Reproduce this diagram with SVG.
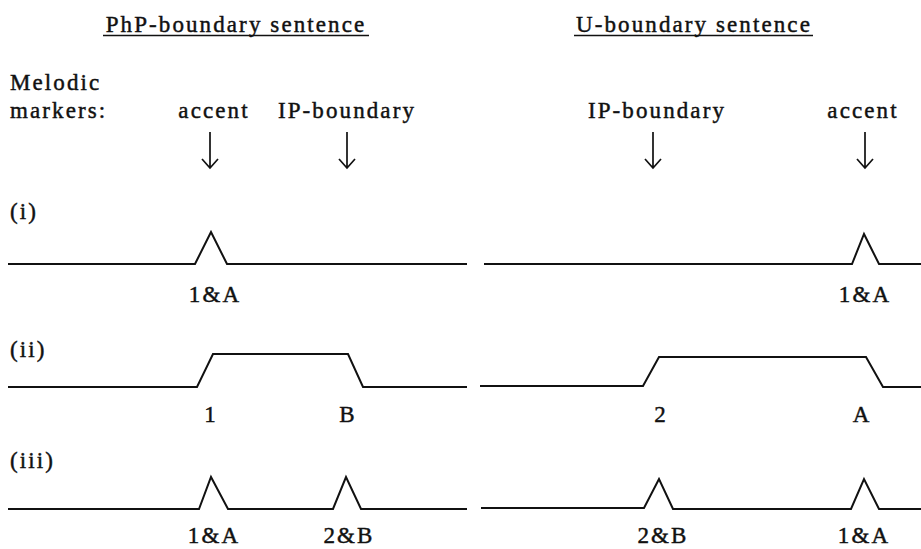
<svg xmlns="http://www.w3.org/2000/svg" width="921" height="549" viewBox="0 0 921 549">
  <style>
    text { font-family: "Liberation Serif", "Times New Roman", serif; font-size: 23px; letter-spacing: 2.1px; fill: #111; stroke: #111; stroke-width: 0.45px; }
    .mid { text-anchor: middle; }
    .contour { fill: none; stroke: #111; stroke-width: 2; stroke-linejoin: miter; }
    .rule { stroke: #111; stroke-width: 1.7; }
    .arrow { fill: none; stroke: #111; stroke-width: 1.7; }
  </style>
  <rect width="921" height="549" fill="#fff"/>

  <!-- column headings -->
  <g id="heading-php">
    <text x="236" y="32" class="mid">PhP-boundary sentence</text>
    <line class="rule" x1="103" y1="35.5" x2="369" y2="35.5"/>
  </g>
  <g id="heading-u">
    <text x="694" y="32" class="mid">U-boundary sentence</text>
    <line class="rule" x1="574" y1="35.5" x2="813" y2="35.5"/>
  </g>

  <!-- marker labels -->
  <g id="markers-label">
    <text x="10" y="90">Melodic</text>
    <text x="10" y="118">markers:</text>
  </g>
  <g id="marker-accent-left">
    <text x="214" y="118" class="mid">accent</text>
    <path class="arrow" d="M210 132 V168 M202 159 L210 168 L218 159"/>
  </g>
  <g id="marker-ip-left">
    <text x="347" y="118" class="mid">IP-boundary</text>
    <path class="arrow" d="M347 132 V168 M339 159 L347 168 L355 159"/>
  </g>
  <g id="marker-ip-right">
    <text x="657" y="118" class="mid">IP-boundary</text>
    <path class="arrow" d="M653 132 V168 M645 159 L653 168 L661 159"/>
  </g>
  <g id="marker-accent-right">
    <text x="863" y="118" class="mid">accent</text>
    <path class="arrow" d="M865 132 V168 M857 159 L865 168 L873 159"/>
  </g>

  <!-- row (i) -->
  <g id="row-i">
    <text x="10" y="219">(i)</text>
    <path class="contour" d="M8 264 H195 L211 232 L227 264 H467"/>
    <path class="contour" d="M484 264 H852 L864 234 L879 264 H921"/>
    <text x="215" y="302" class="mid">1&amp;A</text>
    <text x="865" y="302" class="mid">1&amp;A</text>
  </g>

  <!-- row (ii) -->
  <g id="row-ii">
    <text x="10" y="357">(ii)</text>
    <path class="contour" d="M8 387 H197 L213 354 H348 L363 387 H467"/>
    <path class="contour" d="M480 386 H643 L659 357 H866 L883 387 H921"/>
    <text x="211" y="422" class="mid">1</text>
    <text x="348" y="422" class="mid">B</text>
    <text x="661" y="422" class="mid">2</text>
    <text x="862" y="422" class="mid">A</text>
  </g>

  <!-- row (iii) -->
  <g id="row-iii">
    <text x="10" y="468">(iii)</text>
    <path class="contour" d="M8 509 H199 L211 477 L228 509 H333 L346 477 L361 509 H467"/>
    <path class="contour" d="M481 508 H644 L659 479 L673 509 H851 L864 479 L879 509 H921"/>
    <text x="214" y="543" class="mid">1&amp;A</text>
    <text x="349" y="543" class="mid">2&amp;B</text>
    <text x="663" y="543" class="mid">2&amp;B</text>
    <text x="864" y="543" class="mid">1&amp;A</text>
  </g>
</svg>
